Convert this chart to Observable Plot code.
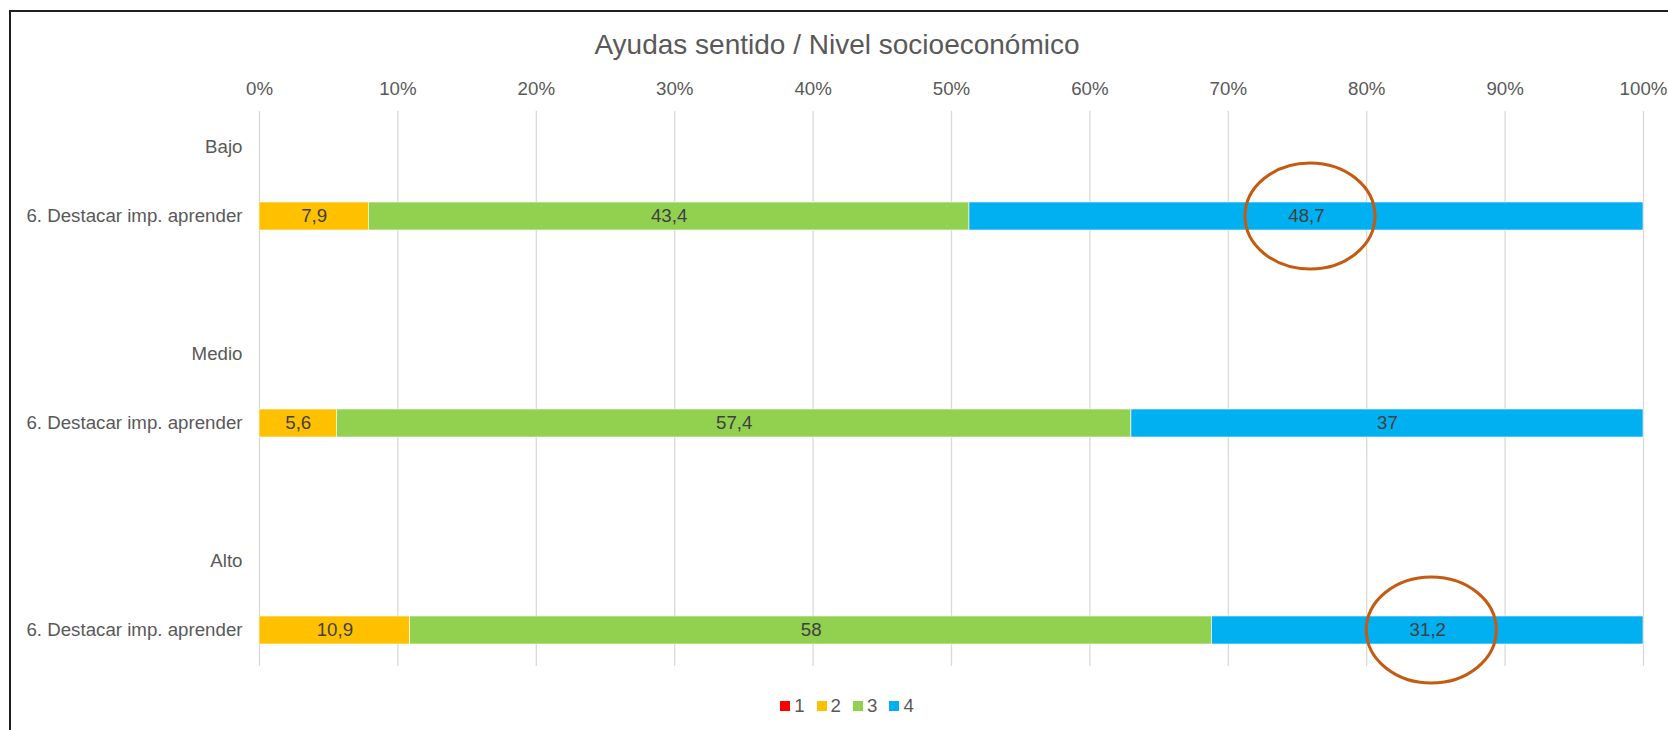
<!DOCTYPE html>
<html>
<head>
<meta charset="utf-8">
<script src="https://cdn.jsdelivr.net/npm/d3@7"></script>
<script src="https://cdn.jsdelivr.net/npm/@observablehq/plot@0.6"></script>
<style>
  html, body { margin: 0; padding: 0; background: #fff; overflow: hidden; }
  #wrap { position: relative; width: 1668px; height: 730px; overflow: hidden; font-family: "Liberation Sans", Arial, sans-serif; }
  #frame { position: absolute; left: 9px; top: 10px; width: 1720px; height: 800px; border: 2px solid #1f1f1f; box-sizing: border-box; pointer-events: none; }
  #title { position: relative; height: 70px; box-sizing: border-box; padding-top: 31px; line-height: 28px; font-size: 28px; color: #595959; width: 1674px; text-align: center; white-space: nowrap; }
  #chart svg { display: block; }
  #legend { height: 42px; display: flex; align-items: center; justify-content: center; width: 1706px; font-size: 18.7px; color: #595959; }
  .item { display: flex; align-items: center; margin-right: 12px; }
  .sw { width: 10px; height: 10px; margin-right: 4px; }
</style>
</head>
<body>
<div id="wrap">
  <div id="title"></div>
  <div id="chart"></div>
  <div id="legend"></div>
  <div id="frame"></div>
</div>
<script>
// ---- data ----
const titleText = "Ayudas sentido / Nivel socioeconómico";
const groups = ["Bajo", "Medio", "Alto"];
const itemLabel = "6. Destacar imp. aprender";
const seriesNames = ["1", "2", "3", "4"];
const seriesColors = ["#FF0000", "#FFC000", "#92D050", "#00B0F0"];
const serie1 = [0, 0, 0];
const serie2 = [7.9, 5.6, 10.9];
const serie3 = [43.4, 57.4, 58];
const serie4 = [48.7, 37, 31.2];
const xTicks = [0, 0.1, 0.2, 0.3, 0.4, 0.5, 0.6, 0.7, 0.8, 0.9, 1];
const highlighted = [["Bajo", "4"], ["Alto", "4"]];

// ---- build table ----
const seriesValues = [serie1, serie2, serie3, serie4];
const rows = [];
groups.forEach((g, gi) => {
  seriesNames.forEach((s, si) => {
    rows.push({key: g + "|item", group: g, series: s, value: seriesValues[si][gi]});
  });
});
const yDomain = [];
groups.forEach((g, gi) => {
  yDomain.push(g + "|head");
  yDomain.push(g + "|item");
  if (gi < groups.length - 1) yDomain.push(g + "|gap");
});
const yLabel = k => k.endsWith("|head") ? k.split("|")[0] : k.endsWith("|item") ? itemLabel : "";
const fmt = v => String(v).replace(".", ",");

document.getElementById("title").textContent = titleText;

const nonzero = rows.filter(d => d.value > 0);

const plot = Plot.plot({
  width: 1668,
  height: 615,
  marginLeft: 259,
  marginRight: 25,
  marginTop: 41,
  marginBottom: 19,
  style: {fontFamily: "'Liberation Sans', Arial, sans-serif", fontSize: "18.7px", color: "#595959", background: "transparent", overflow: "visible"},
  x: {domain: [0, 1], axis: null, label: null},
  y: {type: "band", domain: yDomain, paddingInner: 0.6, paddingOuter: 0.3, axis: null, label: null},
  color: {domain: seriesNames, range: seriesColors},
  marks: [
    Plot.gridX(xTicks, {stroke: "#d9d9d9", strokeOpacity: 1, strokeWidth: 1.3}),
    Plot.axisX(xTicks, {anchor: "top", label: null, tickSize: 0, tickPadding: 17, tickFormat: d => Math.round(d * 100) + "%", fontSize: 18.7, fill: "#595959"}),
    Plot.axisY({anchor: "left", label: null, tickSize: 0, tickPadding: 17, tickFormat: yLabel, fontSize: 18.7, fill: "#595959"}),
    Plot.barX(nonzero, Plot.stackX({x: "value", y: "key", z: "series", order: seriesNames, offset: "normalize", fill: "series", stroke: "#ffffff", strokeWidth: 0.6})),
    Plot.text(nonzero, Plot.stackX({x: "value", y: "key", z: "series", order: seriesNames, offset: "normalize", text: d => fmt(d.value), fill: "#404040", fontSize: 18.7}))
  ]
});
document.getElementById("chart").appendChild(plot);

// ---- annotation ellipses around highlighted segments ----
const xs = plot.scale("x"), ys = plot.scale("y");
const svg = d3.select(plot);
highlighted.forEach(([g, s]) => {
  const gi = groups.indexOf(g);
  const vals = seriesValues.map(a => a[gi]);
  const total = d3.sum(vals);
  const si = seriesNames.indexOf(s);
  const before = d3.sum(vals.slice(0, si));
  const mid = (before + vals[si] / 2) / total;
  const cx = xs.apply(mid) + 4;
  const cy = ys.apply(g + "|item") + ys.bandwidth / 2;
  svg.append("ellipse")
    .attr("cx", cx).attr("cy", cy)
    .attr("rx", 65).attr("ry", 53)
    .attr("fill", "none").attr("stroke", "#C55A11").attr("stroke-width", 3);
});

// ---- legend ----
const legend = d3.select("#legend");
seriesNames.forEach((s, i) => {
  const it = legend.append("div").attr("class", "item");
  it.append("div").attr("class", "sw").style("background", seriesColors[i]);
  it.append("span").text(s);
});
</script>
</body>
</html>
